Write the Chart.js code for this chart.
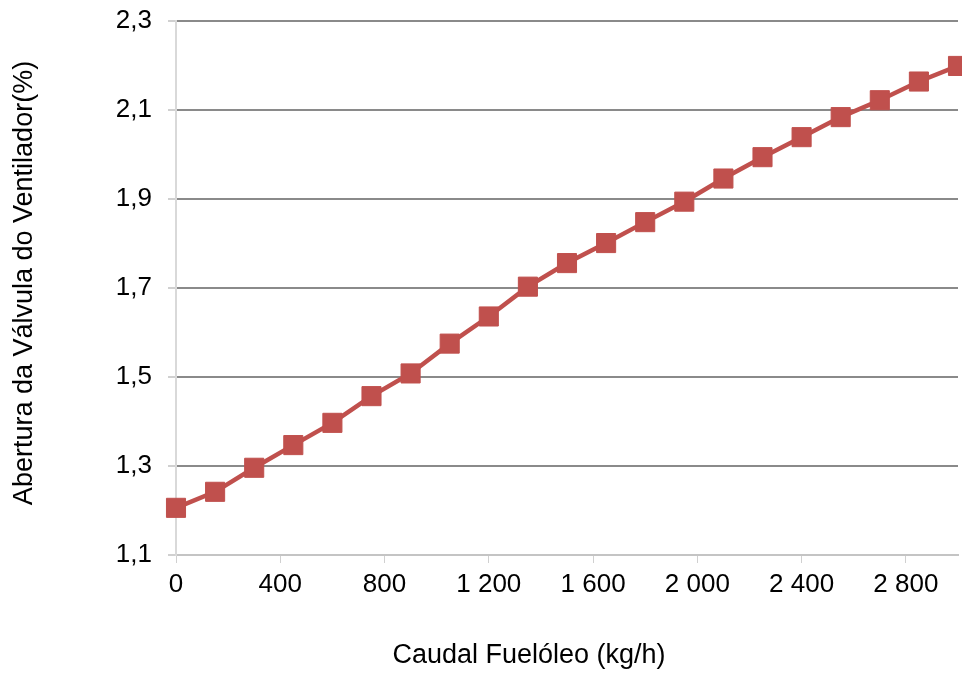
<!DOCTYPE html>
<html>
<head>
<meta charset="utf-8">
<script src="https://cdn.jsdelivr.net/npm/chart.js@4/dist/chart.umd.min.js"></script>
<style>
  html, body { margin: 0; padding: 0; background: #ffffff; }
  #wrap { width: 962px; height: 673px; }
</style>
</head>
<body>
<div id="wrap"><canvas id="c" width="962" height="673"></canvas></div>
<script>
// Data
const caudal = [0, 150, 300, 450, 600, 750, 900, 1050, 1200, 1350, 1500, 1650, 1800, 1950, 2100, 2250, 2400, 2550, 2700, 2850, 3000];
const abertura = [1.206, 1.242, 1.296, 1.347, 1.397, 1.457, 1.508, 1.575, 1.636, 1.703, 1.756, 1.801, 1.848, 1.894, 1.946, 1.994, 2.039, 2.084, 2.122, 2.164, 2.199];
const xTickValues = [0, 400, 800, 1200, 1600, 2000, 2400, 2800];
const yTickValues = [1.1, 1.3, 1.5, 1.7, 1.9, 2.1, 2.3];
const xTitle = 'Caudal Fuelóleo (kg/h)';
const yTitle = 'Abertura da Válvula do Ventilador(%)';

const points = caudal.map((x, i) => ({ x: x, y: abertura[i] }));
const FONT = "'Liberation Sans', Arial, sans-serif";
const RED = '#C0504D';

// Axis titles, placed as in the reference (slightly off the plot centre)
const axisTitles = {
  id: 'axisTitles',
  afterDraw(chart) {
    const ctx = chart.ctx;
    ctx.save();
    ctx.fillStyle = '#000000';
    ctx.font = '27px ' + FONT;
    ctx.textAlign = 'center';
    ctx.textBaseline = 'middle';
    ctx.fillText(xTitle, 529, 656);
    ctx.translate(25, 283);
    ctx.rotate(-Math.PI / 2);
    ctx.fillText(yTitle, 0, 0);
    ctx.restore();
  }
};

new Chart(document.getElementById('c'), {
  type: 'line',
  data: {
    datasets: [{
      data: points,
      borderColor: RED,
      backgroundColor: RED,
      borderWidth: 4.5,
      pointStyle: 'rect',
      pointRadius: 13.5,
      pointBorderWidth: 1,
      pointBorderColor: RED,
      pointBackgroundColor: RED,
      tension: 0,
      clip: false
    }]
  },
  plugins: [axisTitles],
  options: {
    responsive: false,
    animation: false,
    layout: { autoPadding: false, padding: { left: 0, right: 4, top: 21, bottom: 0 } },
    plugins: { legend: { display: false }, tooltip: { enabled: false } },
    scales: {
      x: {
        type: 'linear',
        min: 0,
        max: 3000,
        afterBuildTicks: s => { s.ticks = xTickValues.map(v => ({ value: v })); },
        afterFit: s => { s.height = 118; s.paddingLeft = 0; s.paddingRight = 0; },
        grid: {
          drawOnChartArea: false,
          drawTicks: true,
          tickLength: 8,
          tickColor: '#d0d0d0',
          lineWidth: 1
        },
        border: { display: true, color: '#c4c4c4', width: 2 },
        ticks: {
          autoSkip: false,
          maxRotation: 0,
          padding: 6,
          color: '#000000',
          font: { family: FONT, size: 26 },
          callback: v => String(v).replace(/\B(?=(\d{3})+(?!\d))/g, ' ')
        },
        title: { display: false }
      },
      y: {
        type: 'linear',
        min: 1.1,
        max: 2.3,
        afterBuildTicks: s => { s.ticks = yTickValues.map(v => ({ value: v })); },
        afterFit: s => { s.width = 176; s.paddingTop = 0; s.paddingBottom = 0; },
        grid: {
          drawTicks: true,
          tickLength: 8,
          tickColor: '#d0d0d0',
          color: ctx => (ctx.tick && Math.abs(ctx.tick.value - 1.1) < 1e-6) ? 'rgba(0,0,0,0)' : '#8a8a8a',
          lineWidth: 2
        },
        border: { display: true, color: '#d9d9d9', width: 2 },
        ticks: {
          padding: 16,
          color: '#000000',
          font: { family: FONT, size: 26 },
          callback: v => Number(v).toFixed(1).replace('.', ',')
        },
        title: { display: false }
      }
    }
  }
});
</script>
</body>
</html>
